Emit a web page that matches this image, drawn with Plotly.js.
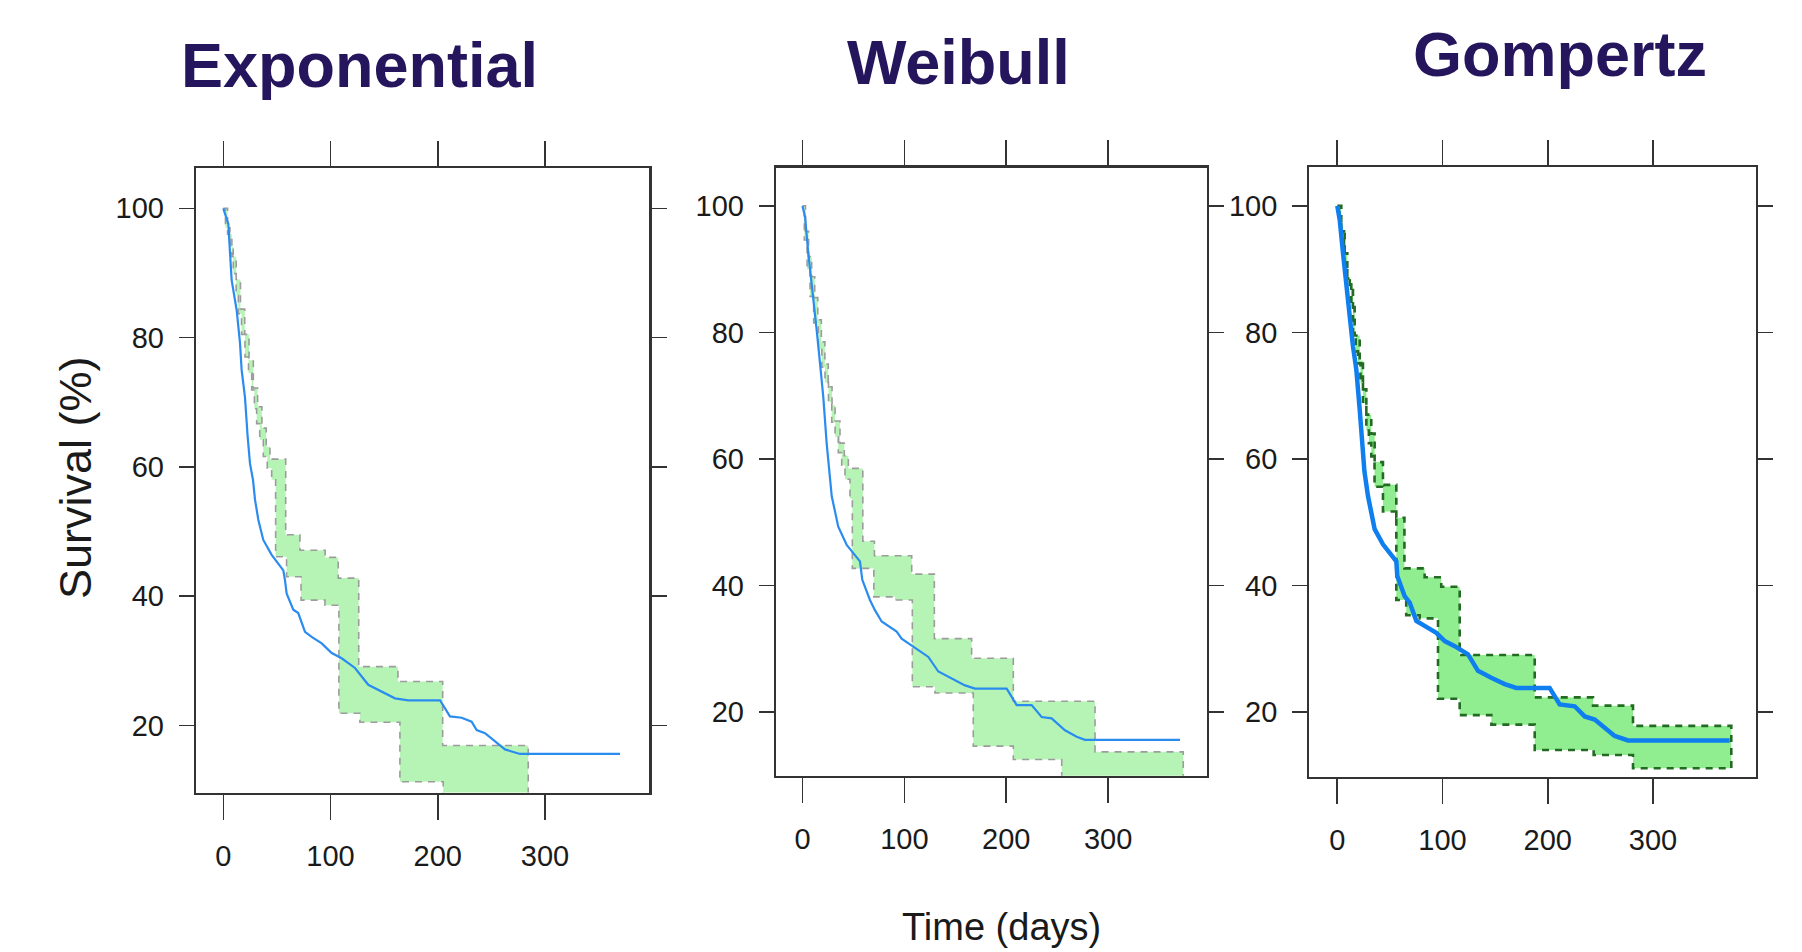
<!DOCTYPE html>
<html>
<head>
<meta charset="utf-8">
<script src="https://cdn.plot.ly/plotly-3.0.1.min.js"></script>
<style>
  html, body { margin: 0; padding: 0; background: #ffffff; }
  #chart { width: 1802px; height: 952px; }
</style>
</head>
<body>
<div id="chart"></div>
<script>
// ---------------- data ----------------
const panelTitles = ['Exponential', 'Weibull', 'Gompertz'];
const xTickVals = [0, 100, 200, 300];
const yTickVals = [20, 40, 60, 80, 100];
const yAxisTitle = 'Survival (%)';
const xAxisTitle = 'Time (days)';

// Exponential: fitted curve
const expCurveT = [0, 4.7, 6.3, 7.8, 12.5, 15.6, 17.1, 20.2, 22.7, 24.9, 27.7, 29.6, 32.7, 37.3, 45.1, 56, 57.5, 59.1, 65.3, 69.9, 76.2, 82.4, 91.8, 101.1, 110.4, 122.8, 135.2, 147.7, 160.1, 172.5, 202.1, 211.4, 222.3, 231.6, 236.3, 244.1, 253.4, 262.7, 276.7, 370];
const expCurveS = [100, 97.6, 93.0, 88.9, 84.2, 79.1, 75.0, 70.8, 64.7, 60.5, 58.0, 54.9, 51.8, 48.7, 46.4, 44.0, 42.5, 40.4, 37.9, 37.4, 34.5, 33.7, 32.7, 31.2, 30.4, 28.9, 26.3, 25.2, 24.2, 23.9, 23.9, 21.4, 21.2, 20.6, 19.3, 18.8, 17.5, 16.3, 15.6, 15.6];
// Exponential: Kaplan-Meier confidence band (step change times / values)
const expUpperT = [0, 4, 8, 12, 16, 20, 24, 28, 32, 36, 40, 43.5, 58.2, 71.5, 95, 107.2, 126.3, 162.9, 204.6];
const expUpperS = [100, 96, 92.5, 89, 84.4, 80.5, 76.5, 72.2, 69.3, 66, 63.1, 61.2, 49.5, 47.1, 46.0, 42.8, 29.1, 26.8, 16.9];
const expLowerT = [0, 2, 6.2, 9.3, 12, 14, 17, 20.2, 23.5, 26.5, 29, 31.1, 34, 37.3, 41, 45.1, 48.8, 59.0, 72.5, 94.8, 107.8, 127.4, 164.7, 205.1];
const expLowerS = [100, 97, 94, 89.9, 86.5, 83.7, 80.5, 77, 74.5, 71.9, 69, 66.7, 64.2, 61.6, 59.8, 58, 46.1, 43.0, 39.4, 38.6, 21.9, 20.5, 11.3, 4];
const expBandEnd = 284.4;

// Weibull
const weiCurveT = [0, 2.5, 5.7, 10.6, 13.9, 17.2, 20.4, 23.7, 26.5, 28.7, 35.1, 43.4, 56.4, 58.7, 66.2, 71.1, 77.7, 92.4, 97.3, 108.7, 123.5, 133.3, 149.7, 159.5, 169.3, 200.4, 210.2, 224.9, 234.7, 244.5, 257.6, 269.1, 277.2, 370.5];
const weiCurveS = [100, 98.3, 92.5, 85.7, 80.4, 75.1, 69.8, 62.5, 57.5, 54.1, 49.3, 46.4, 43.8, 40.9, 37.7, 36.1, 34.3, 32.7, 31.6, 30.3, 28.7, 26.4, 25.0, 24.2, 23.7, 23.7, 21.1, 21.1, 19.2, 19.0, 17.1, 16.1, 15.6, 15.6];
const weiUpperT = [0, 3, 6, 9, 12, 15, 18.5, 22, 25.3, 29, 32, 36.8, 41, 45, 59.2, 70.6, 107.2, 129.4, 166, 206.9, 287.1];
const weiUpperS = [100, 96, 92, 88.8, 85.5, 82, 78.5, 75, 71.4, 68.5, 66, 62.5, 60.5, 58.5, 47.0, 44.7, 41.8, 31.6, 28.5, 21.7, 13.7];
const weiLowerT = [0, 1.8, 4.5, 7.4, 11, 15.5, 19, 22.1, 25.5, 28.7, 32, 35.1, 38.5, 41.7, 46.6, 48.9, 70.0, 90.8, 107.8, 130, 167.6, 206.9, 254.4];
const weiLowerS = [100, 94.6, 90, 85.7, 81.5, 77.3, 74.5, 72.1, 69, 65.8, 63.5, 61, 59, 56.8, 53.7, 42.7, 38.2, 37.7, 24.0, 23.0, 14.6, 12.5, 4];
const weiBandEnd = 373.7;

// Gompertz
const gomCurveT = [0, 2.3, 5.4, 8.6, 11.8, 14.9, 18.1, 21.3, 24.4, 25.8, 29.2, 35.5, 43.4, 56.1, 57.0, 64.0, 68.8, 75.1, 86.2, 94.1, 102.1, 111.6, 124.2, 133.7, 146.3, 159.1, 170.1, 201.8, 211.3, 225.6, 235.1, 244.6, 254.1, 263.6, 276.3, 372.9];
const gomCurveS = [100, 97.8, 92.6, 86.8, 82.6, 77.8, 74.1, 67.8, 61.5, 58.0, 54.1, 48.9, 46.5, 43.8, 41.5, 38.3, 37.3, 34.4, 33.3, 32.5, 31.2, 30.4, 29.1, 26.5, 25.4, 24.4, 23.8, 23.8, 21.2, 20.9, 19.3, 18.8, 17.5, 16.2, 15.5, 15.5];
const gomUpperT = [0, 3.8, 6.4, 9.5, 13.3, 16.5, 21.3, 24.4, 27.6, 32.3, 35.5, 43.4, 56.1, 63.8, 83, 98.8, 116.3, 187.6, 243, 281];
const gomUpperS = [100, 96, 92.5, 88.5, 84, 79.5, 75.5, 71, 67, 64, 59.5, 55.9, 50.7, 42.7, 41.3, 39.8, 29.0, 22.3, 21.0, 17.8];
const gomLowerT = [0, 2, 3.8, 7, 9.5, 11.8, 14.9, 17.5, 19.7, 22, 24.4, 27.6, 30, 32.3, 35.4, 43.4, 56.1, 65.5, 78.3, 95.7, 116.3, 146.4, 187.6, 243.6, 281];
const gomLowerS = [100, 97.5, 95.6, 90.9, 88.5, 86.7, 79.8, 77, 75.1, 72, 68.8, 64.5, 62.5, 60.4, 55.6, 51.7, 37.7, 35.3, 34.8, 22.1, 19.5, 18.0, 14.0, 13.2, 11.1];
const gomBandEnd = 374.4;

// ---------------- helpers ----------------
function stepBand(uT, uS, lT, lS, end) {
  const x = [], y = [];
  x.push(uT[0]); y.push(uS[0]);
  for (let i = 1; i < uT.length; i++) {
    x.push(uT[i]); y.push(uS[i - 1]);
    x.push(uT[i]); y.push(uS[i]);
  }
  x.push(end); y.push(uS[uS.length - 1]);
  x.push(end); y.push(lS[lS.length - 1]);
  for (let i = lT.length - 1; i >= 1; i--) {
    x.push(lT[i]); y.push(lS[i]);
    x.push(lT[i]); y.push(lS[i - 1]);
  }
  x.push(lT[0]); y.push(lS[0]);
  x.push(uT[0]); y.push(uS[0]);
  return { x, y };
}

const W = 1802, H = 952;
const px = v => v / W;
const py = v => 1 - v / H;

const panels = [
  { curveT: expCurveT, curveS: expCurveS, uT: expUpperT, uS: expUpperS, lT: expLowerT, lS: expLowerS, end: expBandEnd,
    box: [196, 649.3, 168.3, 792.6], xr: [-25.46, 397.3], yr: [9.62, 106.19],
    fill: 'rgba(144,238,144,0.66)', border: '#9c9c9c', bw: 1.6, lineColor: '#2b8cf0', lw: 2.2 },
  { curveT: weiCurveT, curveS: weiCurveS, uT: weiUpperT, uS: weiUpperS, lT: weiLowerT, lS: weiLowerS, end: weiBandEnd,
    box: [776, 1206.7, 167.6, 775.7], xr: [-26.0, 396.7], yr: [9.93, 106.05],
    fill: 'rgba(144,238,144,0.66)', border: '#9c9c9c', bw: 1.6, lineColor: '#2b8cf0', lw: 2.2 },
  { curveT: gomCurveT, curveS: gomCurveS, uT: gomUpperT, uS: gomUpperS, lT: gomLowerT, lS: gomLowerS, end: gomBandEnd,
    box: [1309.3, 1755.7, 167.1, 776.5], xr: [-26.6, 397.6], yr: [9.80, 106.13],
    fill: '#90ee90', border: '#236b23', bw: 2.6, lineColor: '#0f7ff0', lw: 4.5 }
];

const tickFont = { family: '"Liberation Sans", Arial, sans-serif', size: 29, color: '#1a1a1a' };

const data = [];
const layout = {
  width: W, height: H,
  margin: { l: 0, r: 0, t: 0, b: 0 },
  paper_bgcolor: '#ffffff', plot_bgcolor: '#ffffff',
  showlegend: false,
  annotations: []
};

panels.forEach((p, i) => {
  const n = i === 0 ? '' : String(i + 1);
  const xa = 'x' + n, ya = 'y' + n;
  const band = stepBand(p.uT, p.uS, p.lT, p.lS, p.end);
  data.push({
    type: 'scatter', mode: 'lines', x: band.x, y: band.y,
    xaxis: xa, yaxis: ya, fill: 'toself', fillcolor: p.fill,
    line: { color: p.border, width: p.bw, dash: '7px,6px' }, hoverinfo: 'skip'
  });
  data.push({
    type: 'scatter', mode: 'lines', x: p.curveT, y: p.curveS,
    xaxis: xa, yaxis: ya, line: { color: p.lineColor, width: p.lw }
  });
  const common = {
    showline: true, linecolor: '#333333', linewidth: 2.2, mirror: 'ticks',
    ticks: 'outside', tickcolor: '#333333', tickwidth: 1.6,
    showgrid: false, zeroline: false, tickfont: tickFont, fixedrange: true
  };
  layout['xaxis' + n] = Object.assign({}, common, {
    domain: [px(p.box[0]), px(p.box[1])], range: p.xr, anchor: ya,
    tickmode: 'array', tickvals: xTickVals, ticktext: xTickVals.map(String),
    ticklen: 25, ticklabelstandoff: 11
  });
  layout['yaxis' + n] = Object.assign({}, common, {
    domain: [py(p.box[3]), py(p.box[2])], range: p.yr, anchor: xa,
    tickmode: 'array', tickvals: yTickVals, ticktext: yTickVals.map(String),
    ticklen: 15, ticklabelstandoff: 9
  });
});

const titleFont = { family: '"Liberation Sans", Arial, sans-serif', size: 63, color: '#25155c', weight: 'bold' };
const titlePos = [[359, 65], [958, 62], [1560, 54]];
panelTitles.forEach((t, i) => {
  layout.annotations.push({
    text: '<b>' + t + '</b>', xref: 'paper', yref: 'paper',
    x: px(titlePos[i][0]), y: py(titlePos[i][1]), xanchor: 'center', yanchor: 'middle',
    showarrow: false, font: titleFont
  });
});
layout.annotations.push({
  text: yAxisTitle, xref: 'paper', yref: 'paper', x: px(75), y: py(478),
  xanchor: 'center', yanchor: 'middle', textangle: -90, showarrow: false,
  font: { family: '"Liberation Sans", Arial, sans-serif', size: 45, color: '#1a1a1a' }
});
layout.annotations.push({
  text: xAxisTitle, xref: 'paper', yref: 'paper', x: px(1001), y: py(927),
  xanchor: 'center', yanchor: 'middle', showarrow: false,
  font: { family: '"Liberation Sans", Arial, sans-serif', size: 38, color: '#1a1a1a' }
});

Plotly.newPlot('chart', data, layout, { displayModeBar: false, staticPlot: true });
</script>
</body>
</html>
